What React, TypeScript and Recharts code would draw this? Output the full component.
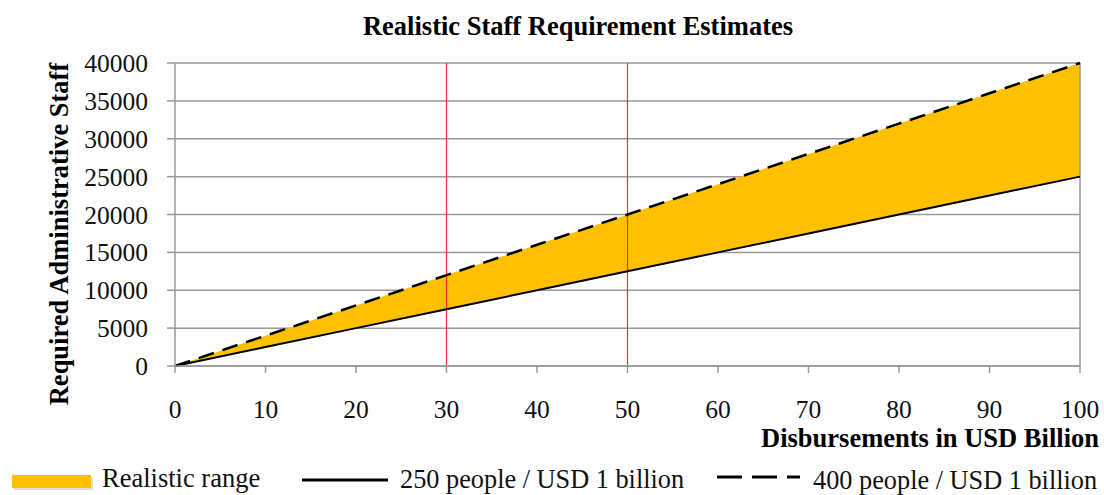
import {
  Area,
  CartesianGrid,
  ComposedChart,
  Line,
  ReferenceLine,
  XAxis,
  YAxis,
} from 'recharts'

const DISBURSEMENTS = [0, 10, 20, 30, 40, 50, 60, 70, 80, 90, 100]
const STAFF_250 = [0, 2500, 5000, 7500, 10000, 12500, 15000, 17500, 20000, 22500, 25000]
const STAFF_400 = [0, 4000, 8000, 12000, 16000, 20000, 24000, 28000, 32000, 36000, 40000]
const X_TICKS = [0, 10, 20, 30, 40, 50, 60, 70, 80, 90, 100]
const Y_TICKS = [0, 5000, 10000, 15000, 20000, 25000, 30000, 35000, 40000]
const MARKERS = [30, 50]

const SERIF = '"Liberation Serif", "Times New Roman", Times, serif'
const GOLD = '#FFC000'
const GRID = '#9A9A9A'

const rows = DISBURSEMENTS.map((x, i) => ({
  x,
  low: STAFF_250[i],
  high: STAFF_400[i],
  range: [STAFF_250[i], STAFF_400[i]],
}))

function Legend() {
  return (
    <svg
      width={1104}
      height={40}
      style={{ position: 'absolute', left: 0, top: 455, fontFamily: SERIF }}
    >
      <rect x={14} y={22} width={79} height={13} fill="#C8C8C8" opacity={0.6} />
      <rect x={12} y={20} width={79} height={13} fill={GOLD} />
      <text x={102} y={32} fontSize={26.5} fill="#111">
        Realistic range
      </text>
      <line x1={302} y1={25} x2={388} y2={25} stroke="#000" strokeWidth={3} />
      <text x={400} y={33} fontSize={26.3} fill="#111">
        250 people / USD 1 billion
      </text>
      <line
        x1={717}
        y1={22}
        x2={800}
        y2={22}
        stroke="#000"
        strokeWidth={3}
        strokeDasharray="25 10"
      />
      <text x={813} y={34} fontSize={26.3} fill="#111">
        400 people / USD 1 billion
      </text>
    </svg>
  )
}

export default function App() {
  return (
    <div
      style={{
        position: 'absolute',
        left: 0,
        top: 0,
        width: 1104,
        height: 495,
        background: '#fff',
        fontFamily: SERIF,
      }}
    >
      <div
        style={{
          position: 'absolute',
          left: 0,
          top: 12,
          width: 1156,
          textAlign: 'center',
          fontWeight: 'bold',
          fontSize: 26.5,
          lineHeight: '28px',
          color: '#000',
        }}
      >
        Realistic Staff Requirement Estimates
      </div>

      <ComposedChart
        width={1104}
        height={495}
        data={rows}
        margin={{ top: 63, right: 24, left: 0, bottom: 0 }}
        style={{ position: 'absolute', left: 0, top: 0 }}
      >
        <CartesianGrid vertical={false} stroke={GRID} strokeWidth={1.5} />
        <XAxis
          dataKey="x"
          type="number"
          domain={[0, 100]}
          ticks={X_TICKS}
          interval={0}
          height={129}
          tickSize={7}
          tickMargin={27}
          stroke={GRID}
          strokeWidth={1.5}
          tick={{ fill: '#111', fontSize: 25.5, fontFamily: SERIF }}
          label={() => (
            <text
              x={1099}
              y={447}
              textAnchor="end"
              fontSize={26.5}
              fontWeight="bold"
              fontFamily={SERIF}
              fill="#000"
            >
              Disbursements in USD Billion
            </text>
          )}
        />
        <YAxis
          type="number"
          domain={[0, 40000]}
          ticks={Y_TICKS}
          interval={0}
          width={175}
          tickSize={8}
          tickMargin={19}
          stroke={GRID}
          strokeWidth={1.5}
          tick={{ fill: '#111', fontSize: 25.5, fontFamily: SERIF }}
          label={() => (
            <text
              x={68}
              y={234}
              transform="rotate(-90 68 234)"
              textAnchor="middle"
              fontSize={26.5}
              fontWeight="bold"
              fontFamily={SERIF}
              fill="#000"
            >
              Required Administrative Staff
            </text>
          )}
        />
        <ReferenceLine x={100} stroke={GRID} strokeWidth={1.5} />
        <Area
          dataKey="range"
          type="linear"
          fill={GOLD}
          fillOpacity={1}
          stroke="none"
          isAnimationActive={false}
          activeDot={false}
        />
        {MARKERS.map((m) => (
          <ReferenceLine key={m} x={m} stroke="#F03030" strokeWidth={1.2} />
        ))}
        <Line
          dataKey="low"
          type="linear"
          stroke="#000"
          strokeWidth={2}
          dot={false}
          activeDot={false}
          isAnimationActive={false}
        />
        <Line
          dataKey="high"
          type="linear"
          stroke="#000"
          strokeWidth={2.5}
          strokeDasharray="16 9"
          dot={false}
          activeDot={false}
          isAnimationActive={false}
        />
      </ComposedChart>

      <Legend />
    </div>
  )
}
